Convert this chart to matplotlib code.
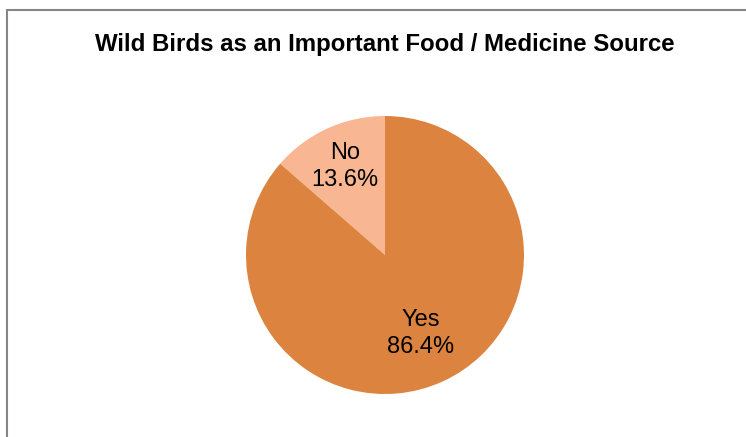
import matplotlib
matplotlib.use("Agg")
import matplotlib.pyplot as plt
from matplotlib.patches import Rectangle
import numpy as np

plt.rcParams['font.family'] = ['Liberation Sans', 'DejaVu Sans']

title = "Wild Birds as an Important Food / Medicine Source"
categories = ["No", "Yes"]
values = [13.6, 86.4]
colors = ["#F8B692", "#DC843F"]

W, H = 746, 437
fig = plt.figure(figsize=(W / 100, H / 100), dpi=100)

# chart border (extends past right/bottom edges as in reference)
fig.patches.append(Rectangle((7 / W, -0.1), 1.2, (H - 10) / H + 0.1,
                             transform=fig.transFigure, fill=False,
                             edgecolor="#868686", linewidth=1.5))

fig.text(385 / W, 1 - 44 / H, title, ha="center", va="center",
         fontsize=17.3, fontweight="bold", color="#000000")

cx, cy, r = 385, 255, 139
pad = 1.05
ax = fig.add_axes([(cx - r * pad) / W, (H - cy - r * pad) / H,
                   2 * r * pad / W, 2 * r * pad / H])

wedges, _ = ax.pie(values, colors=colors, startangle=90, counterclock=True,
                   wedgeprops=dict(linewidth=0))
ax.set_xlim(-pad, pad)
ax.set_ylim(-pad, pad)
ax.set_axis_off()

dists = [0.70, 0.62]
total = sum(values)
for w, cat, v, d in zip(wedges, categories, values, dists):
    ang = np.deg2rad((w.theta1 + w.theta2) / 2)
    ax.text(d * np.cos(ang), d * np.sin(ang), f"{cat}\n{v / total * 100:.1f}%",
            ha="center", va="center", fontsize=17, color="#000000",
            linespacing=1.25)

fig.savefig("out.png", dpi=100)
